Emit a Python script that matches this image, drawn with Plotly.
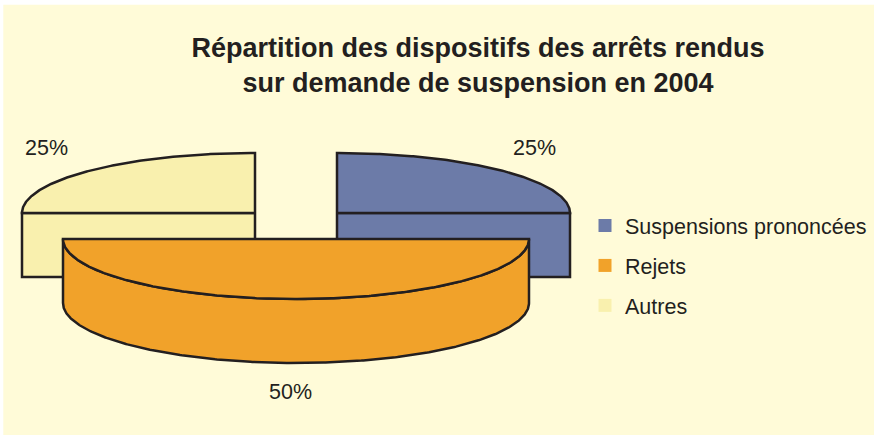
import numpy as np
import plotly.graph_objects as go

categories = ["Suspensions prononcées", "Rejets", "Autres"]
values = [25, 50, 25]
colors = ["#6C7BA8", "#F1A22A", "#F9F0AE"]
title_lines = ["Répartition des dispositifs des arrêts rendus",
               "sur demande de suspension en 2004"]

WIDTH, HEIGHT = 874, 435
CX, CY, RX, RY, DEPTH = 296, 239, 233, 60, 64   # pie frame, in page pixels
EXPLODE = [(41, -26), (0, 0), (-41, -26)]       # slice offset in page pixels (y down)
LABEL_POS = [(534, 148), (290, 392), (46, 148)] # percent labels, in page pixels
INK = "#231F20"
PANEL = "#FFFBD8"


def rim(a0, a1, dx, dy, drop=0.0):
    """Rim points between two clockwise-from-north angles, in pie units (radius 1)."""
    t = np.radians(np.linspace(a0, a1, max(2, int(abs(a1 - a0)) * 2)))
    return dx + np.sin(t), dy + np.cos(t) - drop


def add_face(fig, x, y, color):
    fig.add_trace(go.Scatter(
        x=np.append(x, x[0]), y=np.append(y, y[0]), mode="lines", fill="toself",
        fillcolor=color, line=dict(color=INK, width=2.5, shape="linear"),
        showlegend=False, hoverinfo="skip"))


fig = go.Figure()

# sweep of each slice derived from the values
total = sum(values)
ends = np.cumsum(values) / total * 360
starts = np.concatenate([[0], ends[:-1]])
drop = DEPTH / RY

# back slices first, the front slice last
for i in sorted(range(len(values)), key=lambda k: -abs((starts[k] + ends[k]) / 2 - 180)):
    a0, a1 = starts[i], ends[i]
    dx, dy = EXPLODE[i][0] / RX, -EXPLODE[i][1] / RY
    # visible wall below the slice
    f0, f1 = max(a0, 90), min(a1, 270)
    if f0 < f1:                         # outer rim faces the viewer
        xt, yt = rim(f0, f1, dx, dy)
        xb, yb = rim(f1, f0, dx, dy, drop)
        add_face(fig, np.r_[xt, xb], np.r_[yt, yb], colors[i])
    else:                               # radial edge of the sweep faces the viewer
        xt, yt = rim(a1, a1, dx, dy) if a1 <= 90 else rim(a0, a0, dx, dy)
        add_face(fig, np.array([dx, xt[0], xt[0], dx]),
                 np.array([dy, yt[0], yt[0] - drop, dy - drop]), colors[i])
    # top face
    xt, yt = rim(a0, a1, dx, dy)
    add_face(fig, np.r_[dx, xt], np.r_[dy, yt], colors[i])

# legend entries
for name, color in zip(categories, colors):
    fig.add_trace(go.Scatter(
        x=[None], y=[None], mode="markers", name=name, legendgroup=name,
        marker=dict(symbol="square", size=13, color=color)))

# percent labels
for v, (px, py) in zip(values, LABEL_POS):
    fig.add_annotation(x=(px - CX) / RX, y=(CY - py) / RY, text=f"{v}%", showarrow=False,
                       xanchor="center", yanchor="middle",
                       font=dict(size=21.5, color=INK))

fig.update_layout(
    width=WIDTH, height=HEIGHT, margin=dict(l=0, r=0, t=0, b=0),
    paper_bgcolor="white", plot_bgcolor="rgba(0,0,0,0)",
    font=dict(family="Liberation Sans, Arial, sans-serif", color=INK),
    title=dict(text="<b>" + "<br>".join(title_lines) + "</b>",
               font=dict(size=27, color=INK),
               x=478 / WIDTH, xanchor="center", y=1 - 57 / HEIGHT, yanchor="middle"),
    xaxis=dict(range=[-CX / RX, (WIDTH - CX) / RX], visible=False, fixedrange=True),
    yaxis=dict(range=[(CY - HEIGHT) / RY, CY / RY], visible=False, fixedrange=True),
    legend=dict(x=585 / WIDTH, xanchor="left", y=1 - 205 / HEIGHT, yanchor="top",
                bgcolor="rgba(0,0,0,0)", tracegroupgap=9,
                font=dict(size=21.5, color=INK)),
    shapes=[dict(type="rect", xref="paper", yref="paper", layer="below", line_width=0,
                 fillcolor=PANEL, x0=3.3 / WIDTH, x1=1, y0=0, y1=1 - 4.7 / HEIGHT)],
)

fig.write_html("out.html", config=dict(displayModeBar=False),
               post_script="document.body.style.margin='0';")
